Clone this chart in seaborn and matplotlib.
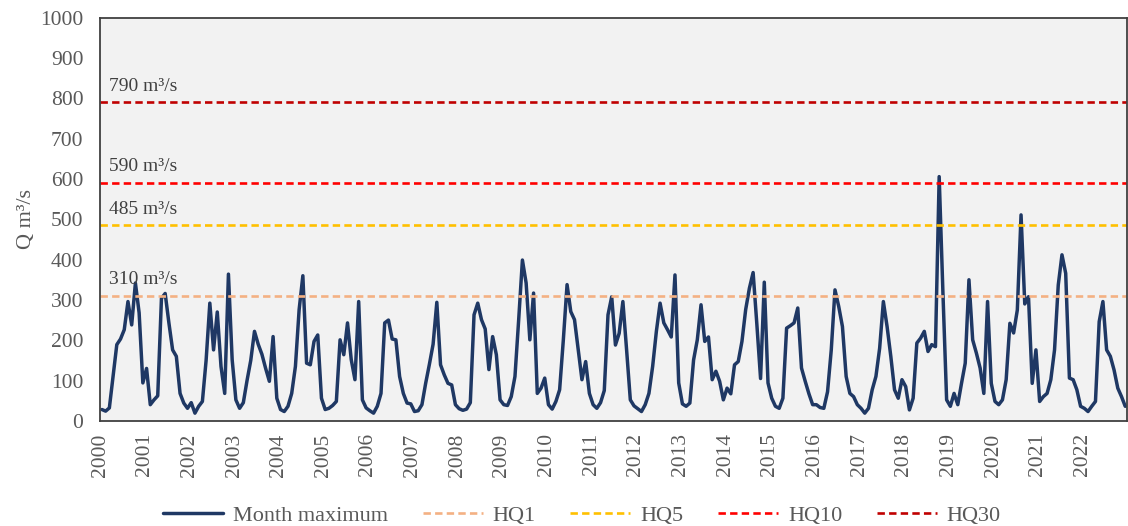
import numpy as np
import pandas as pd
import matplotlib
matplotlib.use("Agg")
import matplotlib.pyplot as plt
import seaborn as sns

# monthly maximum discharge, Jan 2000 .. Dec 2022
month_max = [
    28, 24, 32, 110, 189, 203, 226, 296, 238, 342, 268, 94,     # 2000
    130, 40, 52, 62, 304, 316, 243, 176, 160, 68, 44, 31,      # 2001
    45, 19, 36, 48, 150, 292, 176, 270, 135, 68, 364, 152,     # 2002
    52, 31, 45, 100, 150, 222, 190, 165, 130, 98, 209, 56,     # 2003
    28, 23, 36, 68, 135, 276, 360, 143, 139, 197, 213, 56,     # 2004
    28, 31, 38, 48, 201, 164, 243, 152, 102, 296, 52, 32,      # 2005
    25, 19, 36, 68, 243, 250, 203, 201, 110, 68, 44, 42,       # 2006
    23, 25, 40, 93, 140, 190, 294, 139, 114, 93, 89, 40,       # 2007
    30, 26, 29, 45, 263, 292, 251, 228, 127, 209, 164, 52,     # 2008
    40, 38, 60, 110, 251, 399, 342, 201, 317, 68, 81, 106,     # 2009
    40, 29, 48, 77, 201, 338, 271, 251, 176, 102, 147, 68,     # 2010
    40, 31, 45, 75, 263, 308, 188, 217, 296, 176, 52, 37,      # 2011
    30, 23, 40, 68, 135, 222, 292, 243, 226, 208, 362, 94,     # 2012
    42, 36, 44, 151, 201, 288, 197, 208, 102, 123, 98, 52,     # 2013
    81, 67, 139, 147, 197, 276, 329, 368, 240, 105, 344, 94,   # 2014
    56, 36, 31, 56, 230, 236, 243, 280, 131, 98, 67, 40,       # 2015
    40, 33, 31, 72, 176, 325, 284, 234, 110, 68, 60, 40,       # 2016
    31, 19, 31, 77, 110, 180, 296, 234, 160, 77, 56, 102,      # 2017
    85, 27, 56, 193, 205, 222, 172, 189, 184, 606, 320, 52,    # 2018
    36, 68, 40, 93, 143, 350, 201, 168, 131, 68, 296, 93,      # 2019
    48, 40, 52, 102, 242, 218, 275, 511, 290, 308, 93, 176,    # 2020
    48, 60, 68, 102, 176, 337, 412, 366, 106, 102, 77, 36,     # 2021
    31, 23, 36, 48, 246, 296, 176, 160, 126, 81, 60, 36,       # 2022
]
first_year = 2000
years = list(range(2000, 2023))

hq_names = ["HQ1", "HQ5", "HQ10", "HQ30"]
hq_values = [310, 485, 590, 790]
hq_colors = ["#f4b183", "#ffc000", "#ff0000", "#c00000"]

df = pd.DataFrame({"Q": month_max})
df["t"] = first_year + (np.arange(len(df)) + 0.5) / 12

sns.set_theme(style="white")
plt.rcParams["font.family"] = ["Liberation Serif", "DejaVu Serif"]

fig = plt.figure(figsize=(11.28, 5.26), dpi=100)
ax = fig.add_axes([0.0887, 0.2, 0.9105, 0.766])
ax.set_facecolor("#f2f2f2")

sns.lineplot(data=df, x="t", y="Q", ax=ax, color="#1f3864", linewidth=2.5,
             label="Month maximum")

for name, val, col in zip(hq_names, hq_values, hq_colors):
    ax.axhline(val, color=col, linewidth=1.9, linestyle=(0, (2.8, 1.6)), label=name)
    ax.text(first_year + 0.2, val + 40, f"{val} m³/s", fontsize=14,
            color="#404040", va="center", ha="left")

ax.set_xlim(2000, 2023)
ax.set_ylim(0, 1000)
ax.set_xticks(years)
ax.set_xticklabels([str(y) for y in years], rotation=90)
ax.set_yticks(range(0, 1001, 100))
ax.tick_params(direction="in", length=5, width=1, labelsize=15.5,
               labelcolor="#595959", color="#404040")
ax.tick_params(axis="y", pad=12)
ax.tick_params(axis="x", pad=9)
ax.set_xlabel("")
ax.set_ylabel("Q m³/s", fontsize=16, color="#595959", labelpad=3)

for side in ["left", "bottom", "top", "right"]:
    ax.spines[side].set_color("#404040")
    ax.spines[side].set_linewidth(1.3)

ax.get_legend().remove()
handles, labels = ax.get_legend_handles_labels()
fig.legend(handles, labels, loc="lower center", bbox_to_anchor=(0.516, -0.038),
           ncol=5, frameon=False, fontsize=16, handlelength=2.7,
           handletextpad=0.45, columnspacing=1.55, labelcolor="#595959")

fig.savefig("out.png", dpi=100)
